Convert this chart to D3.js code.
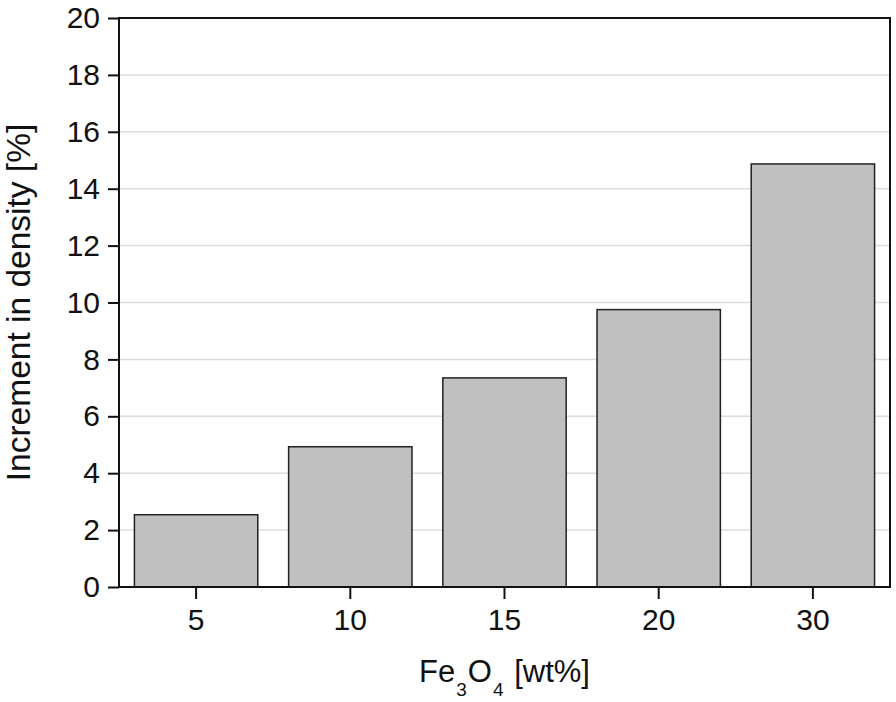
<!DOCTYPE html>
<html><head><meta charset="utf-8">
<script src="https://cdn.jsdelivr.net/npm/d3@7"></script>
<style>body{margin:0;background:#fff}svg{display:block}</style>
</head><body>
<svg id="chart" width="896" height="702"></svg>
<script>
const categories = ["5", "10", "15", "20", "30"];
const values = [2.54, 4.93, 7.35, 9.75, 14.87];
const yTicks = [0, 2, 4, 6, 8, 10, 12, 14, 16, 18, 20];

const svg = d3.select("#chart");
const m = {left: 119, right: 890, top: 18, bottom: 587};
const font = "'Liberation Sans', Arial, sans-serif";

const x = d3.scaleBand().domain(categories).range([m.left, m.right]).paddingInner(0.2).paddingOuter(0.1);
const y = d3.scaleLinear().domain([0, 20]).range([m.bottom, m.top]);

// grid
svg.append("g").selectAll("line").data(yTicks.filter(d => d > 0 && d < 20)).join("line")
  .attr("x1", m.left).attr("x2", m.right)
  .attr("y1", d => y(d)).attr("y2", d => y(d))
  .attr("stroke", "#dcdcdc").attr("stroke-width", 1.5);

// bars
svg.append("g").selectAll("rect").data(categories).join("rect")
  .attr("x", d => x(d)).attr("width", x.bandwidth())
  .attr("y", (d, i) => y(values[i])).attr("height", (d, i) => y(0) - y(values[i]))
  .attr("fill", "#c0c0c0").attr("stroke", "#222").attr("stroke-width", 1.5);

// axes
const yAxis = svg.append("g").attr("transform", `translate(${m.left},0)`)
  .call(d3.axisLeft(y).tickValues(yTicks).tickSize(11).tickPadding(8).tickSizeOuter(0));
const xAxis = svg.append("g").attr("transform", `translate(0,${m.bottom})`)
  .call(d3.axisBottom(x).tickSize(12).tickPadding(10).tickSizeOuter(0));
[yAxis, xAxis].forEach(a => {
  a.select(".domain").remove();
  a.selectAll("line").attr("stroke", "#111").attr("stroke-width", 2);
  a.selectAll("text").attr("fill", "#111").style("font-family", font).style("font-size", "30px");
});

// frame
svg.append("rect").attr("x", m.left).attr("y", m.top)
  .attr("width", m.right - m.left).attr("height", m.bottom - m.top)
  .attr("fill", "none").attr("stroke", "#111").attr("stroke-width", 2);

// titles
svg.append("text").attr("transform", `translate(30,${(m.top + m.bottom) / 2}) rotate(-90)`)
  .attr("text-anchor", "middle").style("font-family", font).style("font-size", "33.5px").attr("fill", "#111")
  .text("Increment in density [%]");

const xt = svg.append("text").attr("x", (m.left + m.right) / 2).attr("y", 682)
  .attr("text-anchor", "middle").style("font-family", font).style("font-size", "31px").attr("fill", "#111");
xt.append("tspan").text("Fe");
xt.append("tspan").text("3").style("font-size", "19px").attr("dy", 14).attr("dx", 1);
xt.append("tspan").text("O").attr("dy", -14).attr("dx", 1);
xt.append("tspan").text("4").style("font-size", "19px").attr("dy", 14).attr("dx", 1);
xt.append("tspan").text(" [wt%]").attr("dy", -14).attr("dx", 2);
</script>
</body></html>
